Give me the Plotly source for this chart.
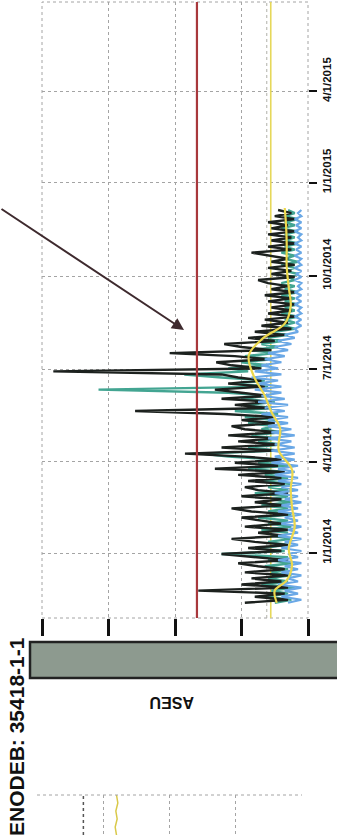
import pandas as pd
import plotly.graph_objects as go

# ---------------- data ----------------
start_date = "2013-11-13"
step = "3D"

black_vals = [0.95, 0.3, 0.8, 0.35, 1.65, 0.3, 1.0, 0.4, 0.85, 0.3,
              0.95, 0.35, 0.75, 1.05, 0.3, 0.8, 1.3, 0.4, 0.9, 0.3,
              0.8, 1.15, 0.35, 0.75, 0.3, 0.95, 0.4, 0.7, 1.0, 0.3,
              0.85, 1.15, 0.35, 0.8, 0.4, 1.0, 0.3, 0.75, 0.95, 0.35,
              0.9, 0.4, 1.05, 0.35, 1.4, 0.45, 1.1, 0.4, 0.95, 1.85,
              0.5, 1.3, 0.45, 1.05, 0.5, 1.2, 0.45, 0.95, 1.15, 0.5,
              1.0, 0.5, 1.25, 2.6, 0.6, 1.1, 0.55, 1.3, 0.6, 1.0,
              1.4, 0.65, 1.2, 0.7, 1.05, 1.3, 3.83, 0.7, 1.15, 1.38,
              0.6, 1.1, 2.08, 0.55, 1.0, 1.26, 0.5, 0.9, 0.35, 0.8,
              0.25, 0.7, 0.3, 0.65, 0.2, 0.6, 0.25, 0.55, 0.2, 0.6,
              0.25, 0.65, 0.2, 0.55, 0.3, 0.6, 0.75, 0.2, 0.55, 0.25,
              0.6, 0.2, 0.55, 0.3, 0.6, 0.85, 0.25, 0.6, 0.2, 0.55,
              0.25, 0.6, 0.2, 0.55, 0.3, 0.6, 0.2, 0.5, 0.25, 0.45]

teal_vals = [0.5, 0.25, 0.65, 0.3, 0.55, 0.2, 0.7, 0.3, 0.6, 0.25,
             0.55, 0.3, 0.65, 0.25, 0.6, 0.3, 1.3, 0.35, 0.7, 0.3,
             0.6, 0.25, 0.55, 0.3, 0.7, 0.25, 0.6, 0.3, 0.75, 0.25,
             0.6, 0.3, 0.7, 0.25, 0.55, 0.3, 0.8, 0.3, 0.6, 0.25,
             0.7, 0.3, 0.65, 0.35, 0.9, 0.3, 0.75, 0.4, 1.2, 1.6,
             0.45, 0.9, 0.4, 0.75, 0.45, 0.85, 0.4, 0.7, 0.5, 0.9,
             0.5, 0.95, 0.45, 1.1, 0.55, 0.9, 0.5, 1.0, 0.6, 1.2,
             3.15, 0.6, 1.1, 0.65, 1.3, 1.86, 0.9, 1.2, 0.6, 1.0,
             0.55, 0.95, 0.5, 0.85, 0.45, 0.7, 0.4, 0.6, 0.3, 0.5,
             0.2, 0.4, 0.2, 0.35, 0.15, 0.4, 0.2, 0.35, 0.15, 0.35,
             0.2, 0.4, 0.15, 0.35, 0.2, 0.4, 0.2, 0.3, 0.15, 0.35,
             0.2, 0.4, 0.15, 0.35, 0.2, 0.4, 0.2, 0.35, 0.15, 0.35,
             0.2, 0.35, 0.15, 0.4, 0.2, 0.35, 0.15, 0.35, 0.2, 0.3]

blue_vals = [0.3, 0.1, 0.4, 0.15, 0.35, 0.1, 0.45, 0.15, 0.3, 0.1,
             0.4, 0.15, 0.35, 0.1, 0.45, 0.15, 0.3, 0.1, 0.4, 0.15,
             0.35, 0.1, 0.45, 0.15, 0.3, 0.1, 0.4, 0.15, 0.35, 0.1,
             0.45, 0.15, 0.4, 0.1, 0.35, 0.15, 0.5, 0.15, 0.4, 0.1,
             0.45, 0.15, 0.5, 0.2, 0.45, 0.15, 0.55, 0.2, 0.5, 0.2,
             0.55, 0.2, 0.5, 0.25, 0.6, 0.2, 0.55, 0.25, 0.6, 0.3,
             0.6, 0.3, 0.7, 0.35, 0.65, 0.3, 0.75, 0.35, 0.7, 0.4,
             0.8, 0.4, 0.75, 0.45, 0.85, 0.4, 0.8, 0.45, 0.7, 0.4,
             0.65, 0.35, 0.6, 0.3, 0.5, 0.25, 0.45, 0.2, 0.35, 0.15,
             0.2, 0.1, 0.18, 0.1, 0.2, 0.1, 0.15, 0.1, 0.2, 0.1,
             0.18, 0.1, 0.2, 0.1, 0.15, 0.1, 0.2, 0.1, 0.18, 0.1,
             0.2, 0.1, 0.15, 0.1, 0.2, 0.1, 0.18, 0.1, 0.2, 0.1,
             0.15, 0.1, 0.2, 0.1, 0.18, 0.1, 0.2, 0.1, 0.15, 0.1]

trend_dates = ["2013-11-13", "2013-11-25", "2013-12-05", "2013-12-20", "2014-01-05",
               "2014-01-27", "2014-02-15", "2014-03-05", "2014-03-24", "2014-04-12",
               "2014-05-04", "2014-05-20", "2014-06-05", "2014-06-25", "2014-07-15",
               "2014-08-01", "2014-08-15", "2014-09-01", "2014-09-20", "2014-10-10",
               "2014-11-01", "2014-11-20", "2014-12-07"]
trend_vals = [0.47, 0.5, 0.32, 0.24, 0.29,
              0.2, 0.24, 0.26, 0.24, 0.44,
              0.42, 0.55, 0.65, 0.82, 0.89,
              0.67, 0.35, 0.26, 0.29, 0.32,
              0.32, 0.33, 0.35]

axis_start = "2013-10-29"
axis_end = "2015-06-28"
threshold_red = [1.67]
threshold_yellow = [0.56]
threshold_gray = [0.62]

date_ticks = ["2014-01-01", "2014-04-01", "2014-07-01", "2014-10-01", "2015-01-01", "2015-04-01"]
date_labels = ["1/1/2014", "4/1/2014", "7/1/2014", "10/1/2014", "1/1/2015", "4/1/2015"]
value_ticks = [0, 1, 2, 3, 4]

# second (partly visible) panel
panel2_threshold = [3.3]
panel2_trend_y = [0.0, 0.2, 0.4, 0.6, 0.8, 1.0]
panel2_trend_x = [2.8, 2.82, 2.79, 2.81, 2.78, 2.8]

# ---------------- figure ----------------
W, H = 337, 835
dates = pd.date_range(start_date, periods=len(black_vals), freq=step)

fig = go.Figure()

fig.add_trace(go.Scatter(x=threshold_yellow * 2, y=[axis_start, axis_end], mode="lines",
                         line=dict(color="#e6d85a", width=1.6), xaxis="x", yaxis="y"))
fig.add_trace(go.Scatter(x=threshold_gray * 2, y=[axis_start, axis_end], mode="lines",
                         line=dict(color="#b0b0a8", width=1, dash="dot"), xaxis="x", yaxis="y"))
fig.add_trace(go.Scatter(x=teal_vals, y=dates, mode="lines",
                         line=dict(color="#43a592", width=2.4), xaxis="x", yaxis="y"))
fig.add_trace(go.Scatter(x=black_vals, y=dates, mode="lines",
                         line=dict(color="#1c211e", width=2.4), xaxis="x", yaxis="y"))
fig.add_trace(go.Scatter(x=blue_vals, y=dates, mode="lines",
                         line=dict(color="#6aa8e6", width=2.2), xaxis="x", yaxis="y"))
fig.add_trace(go.Scatter(x=trend_vals, y=trend_dates, mode="lines",
                         line=dict(color="#ecd84c", width=2.2, shape="spline"), xaxis="x", yaxis="y"))
fig.add_trace(go.Scatter(x=threshold_red * 2, y=[axis_start, axis_end], mode="lines",
                         line=dict(color="#a8383c", width=2.2), xaxis="x", yaxis="y"))

# panel 2 traces
fig.add_trace(go.Scatter(x=panel2_threshold * 2, y=[0, 1], mode="lines",
                         line=dict(color="#555555", width=1.5, dash="dot"), xaxis="x2", yaxis="y2"))
fig.add_trace(go.Scatter(x=panel2_trend_x, y=panel2_trend_y, mode="lines",
                         line=dict(color="#d9c94a", width=1.5), xaxis="x2", yaxis="y2"))

def px_x(p):
    return p / W

def px_y(p):
    return 1 - p / H

grid = dict(showgrid=True, gridcolor="#a4a4a4", griddash="dot", gridwidth=1, zeroline=False)

fig.update_layout(
    width=W, height=H,
    margin=dict(l=0, r=0, t=0, b=0),
    paper_bgcolor="white", plot_bgcolor="white",
    showlegend=False,
    xaxis=dict(domain=[px_x(42), px_x(308)], range=[4, 0], tickvals=value_ticks,
               showticklabels=False, ticks="outside", ticklen=17, tickwidth=3,
               tickcolor="#111111", anchor="y", **grid),
    yaxis=dict(domain=[px_y(618), px_y(2)], type="date", range=[axis_start, axis_end],
               side="right", anchor="x", tickvals=date_ticks,
               ticktext=["<b>%s</b>" % t for t in date_labels],
               tickangle=-90, ticks="outside", ticklen=8, tickwidth=2, tickcolor="#111111",
               ticklabelshift=-10,
               tickfont=dict(family="Liberation Sans, Arial", size=11.5, color="#111111"),
               **grid),
    xaxis2=dict(domain=[px_x(37), px_x(302)], range=[4, 0], tickvals=value_ticks,
                showticklabels=False, ticks="", anchor="y2", **grid),
    yaxis2=dict(domain=[0, px_y(795)], range=[0, 1], showgrid=False, zeroline=False,
                showticklabels=False, ticks="", anchor="x2"),
)

shapes = [
    dict(type="rect", xref="x domain", yref="y domain", x0=0, x1=1, y0=0, y1=1,
         line=dict(color="#a4a4a4", width=1, dash="dot"), fillcolor="rgba(0,0,0,0)", layer="below"),
    dict(type="line", xref="x2 domain", yref="y2 domain", x0=0, x1=1, y0=1, y1=1,
         line=dict(color="#a4a4a4", width=1, dash="dot")),
    dict(type="rect", xref="paper", yref="paper", x0=px_x(30), x1=1.1,
         y0=px_y(678), y1=px_y(642), fillcolor="#8d9a8f",
         line=dict(color="#222222", width=2.5)),
]
fig.update_layout(shapes=shapes)

fig.add_annotation(xref="paper", yref="paper", x=px_x(172), y=px_y(703), text="<b>ASEU</b>",
                   showarrow=False, textangle=180, xanchor="center", yanchor="middle",
                   font=dict(family="Liberation Sans, Arial", size=16, color="#111111"))
fig.add_annotation(xref="paper", yref="paper", x=px_x(16), y=px_y(737),
                   text="<b>ENODEB: 35418-1-1</b>", showarrow=False, textangle=-90,
                   xanchor="center", yanchor="middle",
                   font=dict(family="Liberation Sans, Arial", size=21, color="#111111"))
fig.add_annotation(xref="paper", yref="paper", x=px_x(184), y=px_y(330), text="",
                   showarrow=True, ax=-189, ay=-122, arrowhead=2, arrowsize=1.2,
                   arrowwidth=2, arrowcolor="#3e2a2e", standoff=0)

fig.write_html("out.html", config={"displayModeBar": False},
               post_script="document.body.style.margin='0';document.body.style.overflow='hidden';")
